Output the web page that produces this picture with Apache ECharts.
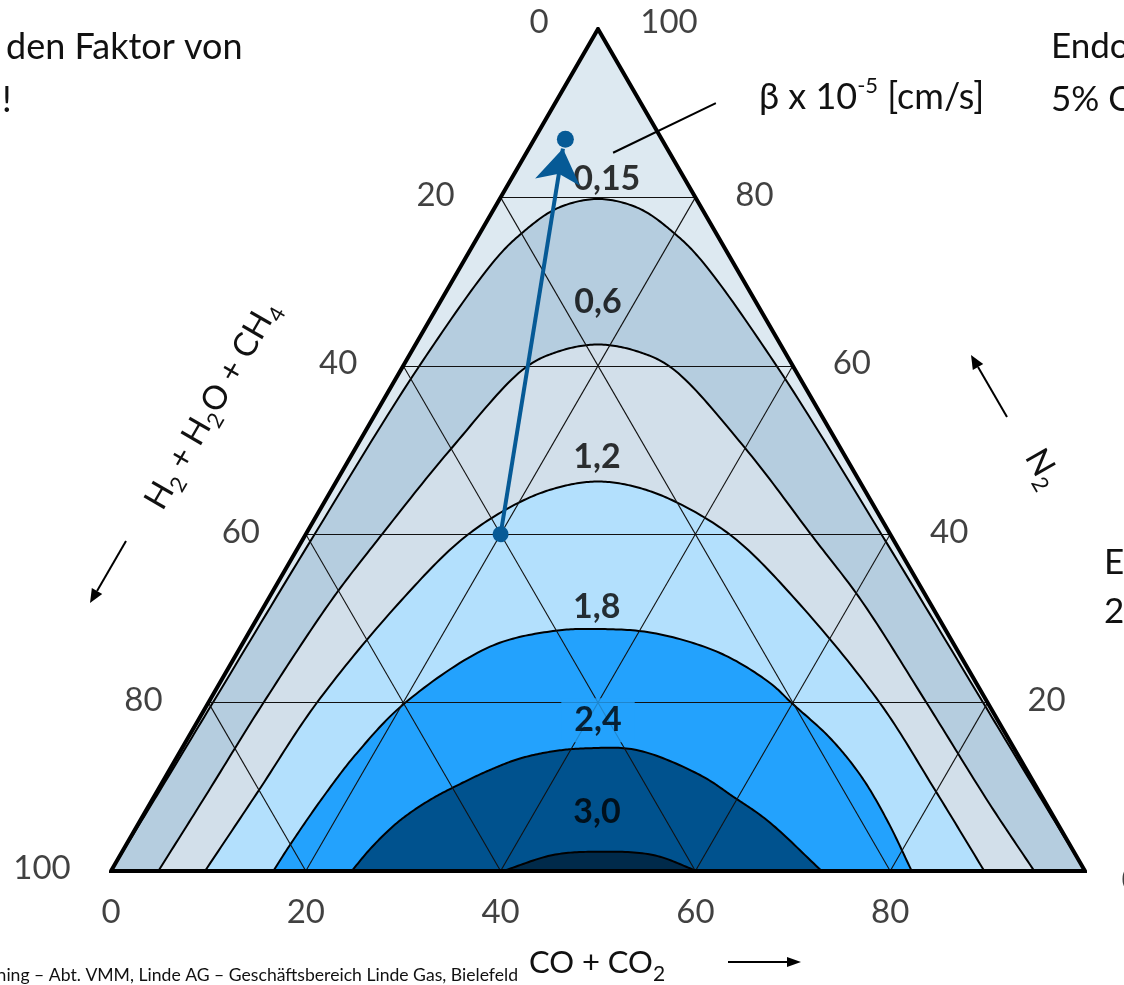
<!DOCTYPE html>
<html><head><meta charset="utf-8">
<script src="https://cdn.jsdelivr.net/npm/echarts@6/dist/echarts.min.js"></script>
<style>html,body{margin:0;padding:0;background:#fff}#c{width:1124px;height:985px}</style>
</head><body><div id="c"></div>
<script>
// Ternary points are [CO + CO2 %, N2 %]; H2 + H2O + CH4 = 100 - CO - N2
const contourValues = ['0,15', '0,6', '1,2', '1,8', '2,4', '3,0'];
const curve015 = [[0,0],[0.25,9.98],[0.46,19.95],[0.9,39.67],[1.65,59.74],[3.14,72.57],[4.31,75.77],[6.44,78.69],[10.1,79.81],[14.87,78.69],[19.92,75.77],[24.29,72.57],[38.61,59.74],[59.43,39.67],[79.59,19.95],[89.77,9.98],[100,0]];
const curve06 = [[4.86,0],[5.23,8.43],[5.66,19.95],[6.56,32.19],[7.78,39.67],[9.86,50.24],[12.63,59.74],[15.22,61.76],[18.73,62.53],[23.02,61.76],[27.7,59.74],[39.97,50.24],[52.23,39.67],[60.9,32.19],[73.77,19.95],[86.1,8.08],[94.79,0]];
const curve12 = [[9.65,0],[10.39,9.62],[11.14,19.95],[13.75,32.19],[16.5,39.67],[20.08,43.82],[23.3,45.61],[26.87,46.26],[31.1,45.61],[36.1,43.82],[44.02,39.67],[54.23,32.19],[68.97,19.95],[79.79,9.62],[89.66,0]];
const curve18 = [[16.66,0],[16.83,3.09],[17.39,8.82],[18.24,13.98],[20.2,19.95],[25.59,26.64],[31.13,28.5],[35.53,28.74],[41.51,28.27],[49.58,25.89],[56.49,22.33],[59.91,19.95],[65.92,15.8],[71.36,11.28],[76.64,6.06],[82.21,0]];
const curve24 = [[24.71,0],[25.37,2.85],[26.56,5.82],[28.4,8.31],[30.67,10.33],[32.91,12.0],[35.31,13.36],[38.46,14.25],[41.58,14.57],[46.78,14.37],[54.77,11.4],[59.48,8.82],[64.48,5.94],[72.97,0]];
const curve30 = [[40.25,0],[44.43,1.9],[48.75,2.29],[54.7,1.9],[60.16,0]];
const contourLabelAt = [[9.8,82.2],[16.2,67.6],[25.3,49.2],[34.2,31.35],[41.05,17.9],[46.4,7.0]];
const gridSteps = [20, 40, 60, 80];
const bottomTicks = [0, 20, 40, 60, 80];          // CO + CO2
const leftTicks = [0, 20, 40, 60, 80, 100];       // H2 + H2O + CH4
const rightTicks = [0, 20, 40, 60, 80, 100];      // N2
const arrowFrom = [20, 40];
const arrowTo = [3.5, 85.8];
const arrowEndDot = [3.2, 86.9];
const leaderLine = [[8.9, 85.3], [16.5, 91.2]];

const curves = [curve015, curve06, curve12, curve18, curve24, curve30];
const fills = ['#b5cddf', '#d2dfea', '#b3e0fd', '#23a2fd', '#00528e', '#002a4a'];
const FONT = 'Lato, "Open Sans", sans-serif';
const BLUE = '#065a96';

const P = (pt) => [pt[0] + pt[1] / 2, pt[1]];

// centripetal Catmull-Rom through screen points
function spline(pts) {
  const n = pts.length, out = [pts[0]];
  const d = (a, b) => Math.max(1e-6, Math.sqrt(Math.hypot(a[0] - b[0], a[1] - b[1])));
  const mix = (a, b, ta, tb, t) => [((tb - t) * a[0] + (t - ta) * b[0]) / (tb - ta), ((tb - t) * a[1] + (t - ta) * b[1]) / (tb - ta)];
  for (let i = 0; i < n - 1; i++) {
    const p1 = pts[i], p2 = pts[i + 1];
    const p0 = i > 0 ? pts[i - 1] : [2 * p1[0] - p2[0], 2 * p1[1] - p2[1]];
    const p3 = i < n - 2 ? pts[i + 2] : [2 * p2[0] - p1[0], 2 * p2[1] - p1[1]];
    const t0 = 0, t1 = t0 + d(p0, p1), t2 = t1 + d(p1, p2), t3 = t2 + d(p2, p3);
    for (let s = 1; s <= 20; s++) {
      const t = t1 + (t2 - t1) * s / 20;
      const A1 = mix(p0, p1, t0, t1, t), A2 = mix(p1, p2, t1, t2, t), A3 = mix(p2, p3, t2, t3, t);
      const B1 = mix(A1, A2, t0, t2, t), B2 = mix(A2, A3, t1, t3, t);
      out.push(mix(B1, B2, t1, t2, t));
    }
  }
  return out;
}

const series = [];
series.push({
  type: 'line', z: 1, silent: true, symbol: 'none',
  data: [P([0,0]), P([0,100]), P([100,0])],
  lineStyle: { width: 0 }, areaStyle: { color: '#dde9f1', opacity: 1 }
});
curves.forEach((c, i) => {
  series.push({
    type: 'custom', coordinateSystem: 'cartesian2d', z: 2 + i, silent: true,
    data: c.map(P),
    renderItem: (params, api) => {
      if (params.dataIndex !== 0) return null;
      const pts = spline(c.map(p => api.coord(P(p))));
      return { type: 'polygon', shape: { points: pts },
        style: { fill: fills[i], stroke: '#000', lineWidth: 2 } };
    }
  });
});
const gridData = [];
gridSteps.forEach(k => {
  gridData.push({ coords: [P([0, k]), P([100 - k, k])] });
  gridData.push({ coords: [P([k, 0]), P([k, 100 - k])] });
  gridData.push({ coords: [P([100 - k, 0]), P([0, 100 - k])] });
});
series.push({
  type: 'lines', coordinateSystem: 'cartesian2d', z: 9, silent: true,
  data: gridData, lineStyle: { color: '#111', width: 1.1, opacity: 1 }
});
series.push({
  type: 'lines', coordinateSystem: 'cartesian2d', z: 10, silent: true, polyline: true,
  data: [{ coords: [P([0,0]), P([0,100]), P([100,0]), P([0,0]), P([0,100])] }],
  lineStyle: { color: '#000', width: 4, opacity: 1, join: 'miter' }
});
series.push({
  type: 'scatter', z: 11, silent: true, symbolSize: 1, itemStyle: { color: 'rgba(0,0,0,0)' },
  data: contourValues.map((v, i) => {
    const d = { name: v, value: P(contourLabelAt[i]) };
    if (v === '2,4') d.label = { backgroundColor: fills[3], padding: [5, 13] };
    return d;
  }),
  label: { show: true, position: 'inside', formatter: '{b}', fontSize: 34, fontWeight: 'bold', color: '#000', fontFamily: FONT }
});
const tickLabel = { show: true, position: 'inside', formatter: '{b}', fontSize: 33, color: '#111', fontFamily: FONT };
series.push({
  type: 'scatter', z: 11, silent: true, symbolSize: 1, itemStyle: { color: 'rgba(0,0,0,0)' },
  data: bottomTicks.map(k => ({ name: String(k), value: P([k, 0]), label: { offset: [0, 41] } })),
  label: tickLabel
});
series.push({
  type: 'scatter', z: 11, silent: true, symbolSize: 1, itemStyle: { color: 'rgba(0,0,0,0)' },
  data: leftTicks.map(k => ({ name: String(k), value: P([0, 100 - k]),
    label: { offset: k === 0 ? [-59, -7] : (k === 100 ? [-69, -3] : [-65, -2]) } })),
  label: tickLabel
});
series.push({
  type: 'scatter', z: 11, silent: true, symbolSize: 1, itemStyle: { color: 'rgba(0,0,0,0)' },
  data: rightTicks.map(k => ({ name: String(k), value: P([100 - k, k]),
    label: { offset: k === 100 ? [71, -7] : (k === 0 ? [46, 9] : [59, -2]) } })),
  label: tickLabel
});
series.push({
  type: 'lines', coordinateSystem: 'cartesian2d', z: 12, silent: true,
  symbol: ['circle', 'arrow'], symbolSize: [16, 34],
  data: [{ coords: [P(arrowFrom), P(arrowTo)] }],
  lineStyle: { color: BLUE, width: 4, opacity: 1 },
  itemStyle: { color: BLUE }
});
series.push({
  type: 'scatter', z: 12, silent: true, symbolSize: 17, itemStyle: { color: BLUE, opacity: 1 },
  data: [P(arrowEndDot)]
});
series.push({
  type: 'lines', coordinateSystem: 'cartesian2d', z: 12, silent: true,
  data: [{ coords: leaderLine.map(P) }],
  lineStyle: { color: '#000', width: 2, opacity: 1 }
});

function arrowG(x1, y1, x2, y2, L, W) {
  const a = Math.atan2(y2 - y1, x2 - x1);
  const bx = x2 - L * Math.cos(a), by = y2 - L * Math.sin(a);
  const px = -Math.sin(a) * W, py = Math.cos(a) * W;
  return [
    { type: 'line', shape: { x1: x1, y1: y1, x2: bx, y2: by }, style: { stroke: '#000', lineWidth: 2 } },
    { type: 'polygon', shape: { points: [[x2, y2], [bx + px, by + py], [bx - px, by - py]] }, style: { fill: '#000' } }
  ];
}
const txt = (x, y, text, align, size) => ({
  type: 'text', x: x, y: y,
  style: { text: text, fill: '#111', fontSize: size || 35, fontFamily: FONT, align: align || 'left', verticalAlign: 'middle' }
});
const subRich = (main, sub) => ({
  a: { fontSize: main, fontFamily: FONT, color: '#111', lineHeight: 44, verticalAlign: 'middle' },
  s: { fontSize: sub, fontFamily: FONT, color: '#111', lineHeight: 22, verticalAlign: 'bottom' },
  u: { fontSize: sub, fontFamily: FONT, color: '#111', lineHeight: 22, verticalAlign: 'top' }
});
const richTxt = (x, y, text, rot, main, sub, align) => ({
  type: 'text', x: x, y: y, rotation: rot || 0,
  style: { text: text, rich: subRich(main, sub), align: align || 'center', verticalAlign: 'middle', fontFamily: FONT, fill: '#111' }
});

const graphic = [
  txt(6, 47, 'den Faktor von', 'left', 36),
  txt(2, 100, '!', 'left', 36),
  txt(1051, 47, 'Endo'),
  txt(1051, 100, '5% C'),
  txt(1104, 563, 'En'),
  txt(1104, 612, '2'),
  richTxt(759, 97, '{a|β x 10}{u|-5}{a| [cm/s]}', 0, 36, 22, 'left'),
  richTxt(597, 963, '{a|CO + CO}{s|2}', 0, 31, 21),
  richTxt(212, 405, '{a|H}{s|2}{a| + H}{s|2}{a|O + CH}{s|4}', Math.PI / 3, 33, 22),
  richTxt(1043, 468, '{a|N}{s|2}', -Math.PI / 3, 33, 22),
  txt(518, 975, 'ning – Abt. VMM, Linde AG – Geschäftsbereich Linde Gas, Bielefeld', 'right', 17.6)
].concat(arrowG(126, 541, 90, 603, 14, 6), arrowG(1007, 417, 971, 355, 14, 6), arrowG(728, 962, 801, 962, 14, 5));

const chart = echarts.init(document.getElementById('c'), null, { renderer: 'canvas' });
chart.setOption({
  animation: false,
  backgroundColor: '#fff',
  grid: { left: 111, top: 29, width: 974, height: 842, containLabel: false },
  xAxis: { type: 'value', min: 0, max: 100, show: false },
  yAxis: { type: 'value', min: 0, max: 100, show: false },
  series: series,
  graphic: graphic
});
</script></body></html>
